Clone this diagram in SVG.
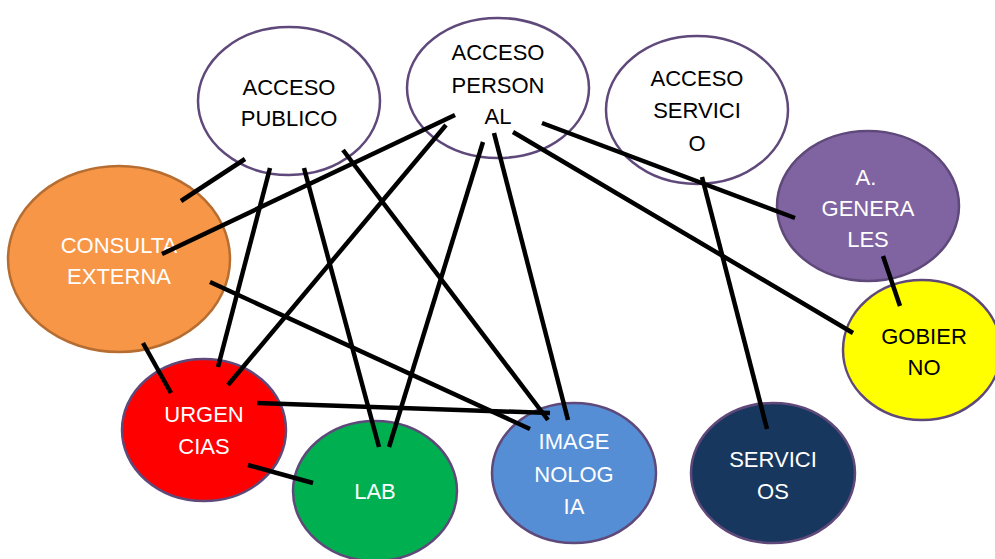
<svg xmlns="http://www.w3.org/2000/svg" width="995" height="559" viewBox="0 0 995 559">
<style>
.n{stroke:#5F497A;stroke-width:2.5}
.o{stroke:#B66D31}
.t{font-family:"Liberation Sans",Arial,sans-serif;font-size:22px;text-anchor:middle}
.w{fill:#FFFFFF}
.k{fill:#000000}
#edges line{stroke:#000;stroke-width:4.5;stroke-linecap:butt}
</style>
<rect width="995" height="559" fill="#FFFFFF"/>
<g id="nodes">
<g id="acceso-publico"><ellipse class="n" cx="289" cy="101" rx="91" ry="74" fill="#FFFFFF"/><text class="t k" x="289" y="95">ACCESO</text><text class="t k" x="289" y="126">PUBLICO</text></g>
<g id="acceso-personal"><ellipse class="n" cx="498" cy="88" rx="91" ry="70" fill="#FFFFFF"/><text class="t k" x="498" y="60">ACCESO</text><text class="t k" x="498" y="93">PERSON</text><text class="t k" x="498" y="124">AL</text></g>
<g id="acceso-servicio"><ellipse class="n" cx="697" cy="110" rx="91" ry="74" fill="#FFFFFF"/><text class="t k" x="697" y="86">ACCESO</text><text class="t k" x="697" y="118">SERVICI</text><text class="t k" x="697" y="151">O</text></g>
<g id="a-generales"><ellipse class="n" cx="868" cy="206" rx="91" ry="75" fill="#8064A2"/><text class="t w" x="866" y="185">A.</text><text class="t w" x="868" y="216">GENERA</text><text class="t w" x="868" y="247">LES</text></g>
<g id="gobierno"><ellipse class="n" cx="922" cy="350" rx="79" ry="70" fill="#FFFF00"/><text class="t k" x="924" y="344">GOBIER</text><text class="t k" x="924" y="375">NO</text></g>
<g id="consulta-externa"><ellipse class="n o" cx="119" cy="259" rx="111" ry="93" fill="#F79646"/><text class="t w" x="119" y="253">CONSULTA</text><text class="t w" x="119" y="284">EXTERNA</text></g>
<g id="urgencias"><ellipse class="n" cx="204" cy="430" rx="82" ry="71" fill="#FF0000"/><text class="t w" x="204" y="422">URGEN</text><text class="t w" x="204" y="454">CIAS</text></g>
<g id="lab"><ellipse class="n" cx="375" cy="491" rx="82" ry="70" fill="#00B050"/><text class="t w" x="375" y="499">LAB</text></g>
<g id="imagenologia"><ellipse class="n" cx="574" cy="473" rx="82" ry="70" fill="#558ED5"/><text class="t w" x="574" y="449">IMAGE</text><text class="t w" x="574" y="482">NOLOG</text><text class="t w" x="574" y="514">IA</text></g>
<g id="servicios"><ellipse class="n" cx="773" cy="473" rx="82" ry="70" fill="#17375E"/><text class="t w" x="773" y="467">SERVICI</text><text class="t w" x="773" y="499">OS</text></g>
</g>
<g id="edges">
<line x1="181" y1="201" x2="245" y2="159"/>
<line x1="162" y1="254" x2="455" y2="115"/>
<line x1="270" y1="168" x2="218" y2="367"/>
<line x1="304" y1="168" x2="379" y2="447"/>
<line x1="343" y1="150" x2="548" y2="420"/>
<line x1="446" y1="125" x2="228" y2="385"/>
<line x1="483" y1="142" x2="389" y2="447"/>
<line x1="494" y1="133" x2="568" y2="420"/>
<line x1="513" y1="132" x2="853" y2="333"/>
<line x1="542" y1="123" x2="795" y2="218"/>
<line x1="702" y1="177" x2="767" y2="429"/>
<line x1="883" y1="256" x2="900" y2="306"/>
<line x1="143" y1="343" x2="171" y2="393"/>
<line x1="210" y1="282" x2="530" y2="429"/>
<line x1="257" y1="403" x2="550" y2="413"/>
<line x1="248" y1="465" x2="313" y2="483"/>
</g>
</svg>
